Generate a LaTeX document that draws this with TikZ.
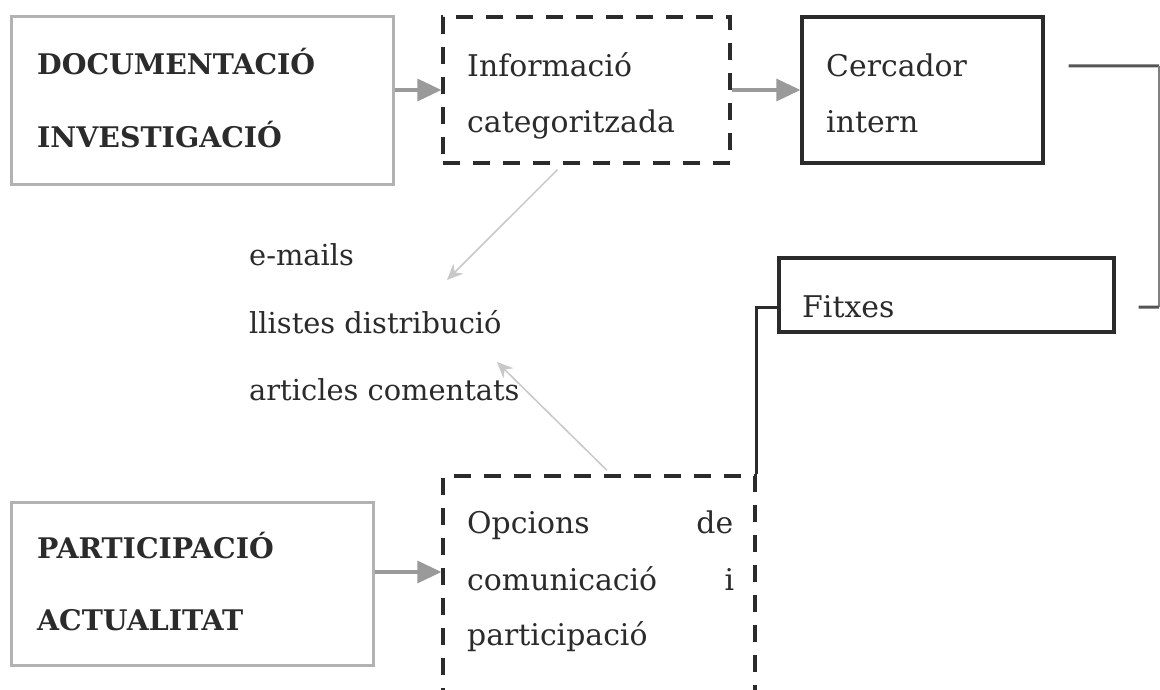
\documentclass[tikz,border=0pt]{standalone}
\usepackage{fontspec}
\setmainfont{DejaVu Serif}
\usetikzlibrary{arrows.meta}
\definecolor{ink}{HTML}{2B2B2B}
\definecolor{boxgray}{HTML}{B2B2B2}
\definecolor{arrgray}{HTML}{9A9A9A}
\definecolor{lightgray}{HTML}{C8C8C8}
\begin{document}
\begin{tikzpicture}[x=1bp,y=-1bp,
  graybox/.style={draw=boxgray, line width=3bp, inner sep=0pt},
  blackbox/.style={draw=ink, line width=3.2bp, inner sep=0pt},
  dashbox/.style={draw=ink, line width=3.2bp, inner sep=0pt, dash pattern=on 17bp off 13bp},
  grayarrow/.style={draw=arrgray, line width=3.2bp, -{Triangle[length=24bp,width=22bp,fill=arrgray]}},
  lightarrow/.style={draw=lightgray, line width=1.5bp, -{Stealth[length=16bp,width=14bp,fill=lightgray]}},
  link/.style={draw=ink, line width=3bp},
  txt/.style={anchor=base west, inner sep=0pt, font=\fontsize{30}{35}\selectfont, text=ink},
  ltxt/.style={anchor=base west, inner sep=0pt, font=\fontsize{29}{34}\selectfont, text=ink},
  btxt/.style={anchor=base west, inner sep=0pt, font=\fontsize{28.5}{34}\selectfont\bfseries, text=ink}
]
\useasboundingbox (0,0) rectangle (1160,690);
\clip (0,0) rectangle (1160,690);
\fill[white] (0,0) rectangle (1160,690);

% boxes
\node[graybox, minimum width=381bp, minimum height=167bp] (doc) at (202.5,100.5) {};
\node[dashbox, minimum width=287bp, minimum height=146bp] (info) at (586.5,90) {};
\node[blackbox, minimum width=241bp, minimum height=146bp] (cerc) at (922.5,90) {};
\node[blackbox, minimum width=335bp, minimum height=74bp] (fitx) at (946.5,295) {};
\node[graybox, minimum width=361bp, minimum height=163bp] (part) at (192.5,583.5) {};
\node[dashbox, minimum width=312bp, minimum height=244bp] (opc) at (599,598) {};

% texts
\node[btxt] (t1) at (37,75) {DOCUMENTACIÓ};
\node[btxt] (t2) at (37,148) {INVESTIGACIÓ};
\node[txt] (t3) at (467,77) {Informació};
\node[txt] (t4) at (467,133) {categoritzada};
\node[txt] (t5) at (826,77) {Cercador};
\node[txt] (t6) at (826,133) {intern};
\node[txt] (t7) at (802,317) {Fitxes};
\node[ltxt] (t8) at (249,265) {e-mails};
\node[ltxt] (t9) at (249,333) {llistes distribució};
\node[ltxt] (t10) at (249,400) {articles comentats};
\node[btxt] (t11) at (37,558) {PARTICIPACIÓ};
\node[btxt] (t12) at (37,630) {ACTUALITAT};
\node[txt] (t13) at (467,533) {\makebox[266bp][s]{Opcions\hfill de}};
\node[txt] (t14) at (467,590) {\makebox[267bp][s]{comunicació\hfill i}};
\node[txt] (t15) at (467,645) {participació};

% connectors
\draw[grayarrow] (info.west -| doc.east) -- (info.west);
\draw[grayarrow] (info.east) -- (cerc.west);
\draw[grayarrow] ([yshift=11.5bp]part.east) -- ([yshift=11.5bp]part.east -| opc.west);

\coordinate (br1) at (1159,66);
\coordinate (br2) at (1159,307);
\draw[draw=ink!80, line width=3bp] ([xshift=24bp,yshift=24bp]cerc.east) -- (br1);
\draw[draw=ink!60, line width=1.8bp] (br1) -- (br2);
\draw[draw=ink!80, line width=3bp] (br2) -- ([xshift=23bp,yshift=-12bp]fitx.east);

\draw[link] ([yshift=-12bp]fitx.west) -| (opc.north east);

\coordinate (a1) at (447,280);
\coordinate (a2) at (497,362);
\draw[lightarrow] ([xshift=-29bp,yshift=-5bp]info.south) -- (a1);
\draw[lightarrow] ([xshift=8bp,yshift=4bp]opc.north) -- (a2);
\end{tikzpicture}
\end{document}
